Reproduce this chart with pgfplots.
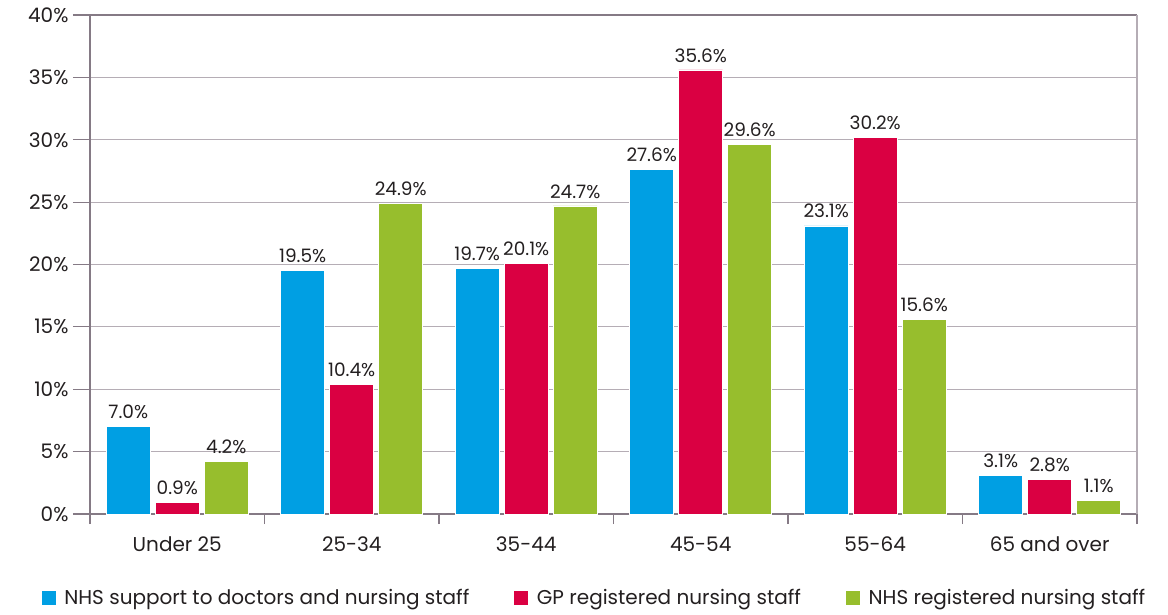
\documentclass[border=0pt]{standalone}
\usepackage{fontspec}
\setmainfont{Poppins}
\usepackage{pgfplots}
\pgfplotsset{compat=1.18}
\definecolor{cblue}{HTML}{009FE3}
\definecolor{cred}{HTML}{DA0042}
\definecolor{cgreen}{HTML}{97BE2D}
\definecolor{gridc}{HTML}{B5ADB5}
\definecolor{axc}{HTML}{857A85}
\definecolor{txt}{HTML}{231F20}
\begin{document}
\begin{tikzpicture}[font=\fontsize{20bp}{24bp}\selectfont, text=txt]
\path[use as bounding box] (-90bp,-101bp) rectangle (1078bp,514bp);
\begin{axis}[
  scale only axis,
  width=1047bp, height=499bp,
  ymin=0, ymax=40,
  xmin=-0.5, xmax=5.5,
  ytick={0,5,...,40},
  yticklabel={\pgfmathprintnumber{\tick}\%},
  /pgf/number format/assume math mode=true,
  xtick={0,...,5},
  xticklabels={Under 25,25-34,35-44,45-54,55-64,65 and over},
  minor xtick={-0.5,0.5,...,5.5},
  major x tick style={draw=none},
  minor x tick style={draw=axc, line width=1.2pt},
  minor tick length=10bp,
  major tick length=17bp,
  tick align=outside,
  y tick style={draw=axc, line width=1.2pt},
  ymajorgrids,
  grid style={draw=gridc, line width=1.2pt},
  axis x line*=bottom,
  axis y line*=left,
  axis line style={draw=axc, line width=1.2pt},
  xticklabel style={yshift=-2bp, text=txt},
  yticklabel style={xshift=-1bp, text=txt},
  ybar=5bp,
  bar width=44bp,
  nodes near coords={\pgfmathprintnumber[fixed,fixed zerofill,precision=1]{\pgfplotspointmeta}\%},
  nodes near coords style={font=\fontsize{18.5bp}{22bp}\selectfont, text=txt, /pgf/number format/assume math mode=true, yshift=4bp},
  legend columns=3,
  legend style={draw=none, at={(0.4814,-0.168)}, anchor=center, font=\fontsize{20bp}{24bp}\selectfont, text=txt,
    /tikz/every even column/.append style={column sep=42bp}},
  legend image code/.code={\fill[#1] (0bp,-7.5bp) rectangle (15bp,7.5bp); \path (21bp,0bp);},
  clip=false,
]
\addplot[fill=cblue, draw=white, line width=0.6pt] coordinates {(0,7.0) (1,19.5) (2,19.7) (3,27.6) (4,23.1) (5,3.1)};
\addplot[fill=cred, draw=white, line width=0.6pt] coordinates {(0,0.9) (1,10.4) (2,20.1) (3,35.6) (4,30.2) (5,2.8)};
\addplot[fill=cgreen, draw=white, line width=0.6pt] coordinates {(0,4.2) (1,24.9) (2,24.7) (3,29.6) (4,15.6) (5,1.1)};
\legend{NHS support to doctors and nursing staff, GP registered nursing staff, NHS registered nursing staff}
\draw[draw=axc, line width=1.2pt] (rel axis cs:0,1) -- (rel axis cs:1,1);
\draw[draw=gridc, line width=1.2pt] (rel axis cs:1,0) -- (rel axis cs:1,1);
\end{axis}
\end{tikzpicture}
\end{document}
